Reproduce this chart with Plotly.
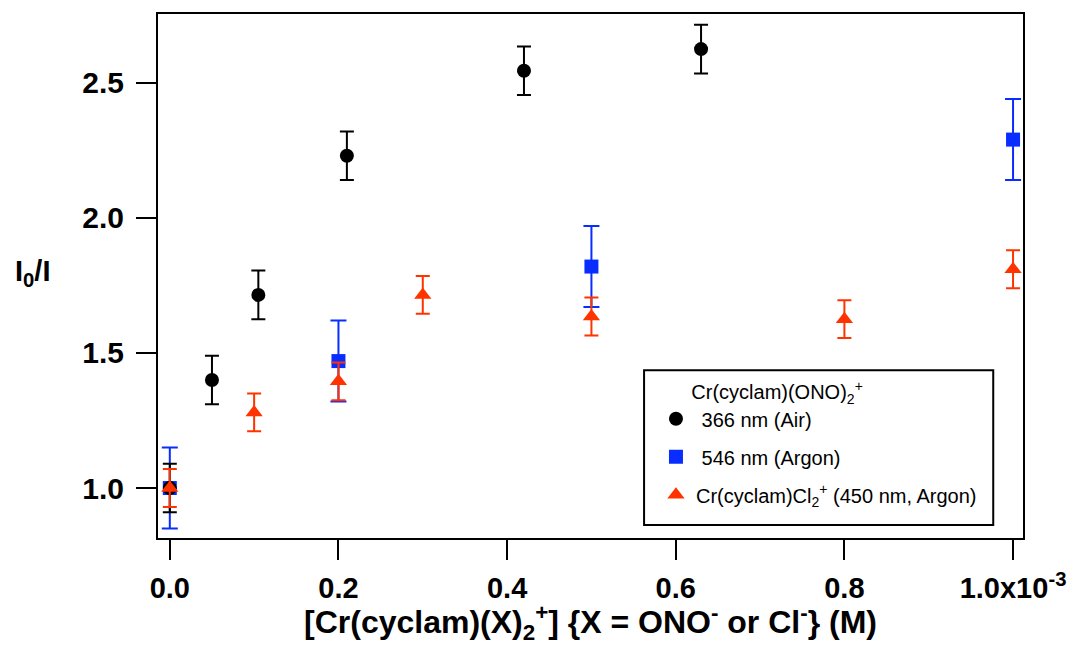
import plotly.graph_objects as go

# Data (x in M)
x_air = [0.0, 0.05e-3, 0.105e-3, 0.21e-3, 0.42e-3, 0.63e-3]
y_air = [1.00, 1.40, 1.715, 2.23, 2.545, 2.625]
e_air = [0.09, 0.09, 0.09, 0.09, 0.09, 0.09]

x_ar = [0.0, 0.2e-3, 0.5e-3, 1.0e-3]
y_ar = [1.00, 1.47, 1.82, 2.29]
e_ar = [0.15, 0.15, 0.15, 0.15]

x_cl = [0.0, 0.1e-3, 0.2e-3, 0.3e-3, 0.5e-3, 0.8e-3, 1.0e-3]
y_cl = [1.00, 1.28, 1.395, 1.715, 1.635, 1.625, 1.81]
e_cl = [0.07, 0.07, 0.07, 0.07, 0.07, 0.07, 0.07]

x_tickvals = [0.0, 0.2e-3, 0.4e-3, 0.6e-3, 0.8e-3, 1.0e-3]
x_ticktext = ["0.0", "0.2", "0.4", "0.6", "0.8", "1.0x10<sup>-3</sup>"]
y_tickvals = [1.0, 1.5, 2.0, 2.5]

BLACK = "#000000"
BLUE = "#0a2dff"
RED = "#ff3300"
FONT = "Liberation Sans, Arial, sans-serif"

fig = go.Figure()
fig.add_trace(go.Scatter(
    x=x_ar, y=y_ar, mode="markers", name="&nbsp;546 nm (Argon)",
    legendrank=2, legendgroup="b",
    marker=dict(symbol="square", size=14, color=BLUE),
    error_y=dict(type="data", array=e_ar, color=BLUE, thickness=2, width=8),
))
fig.add_trace(go.Scatter(
    x=x_air, y=y_air, mode="markers", name="&nbsp;366 nm (Air)",
    legendrank=1, legendgroup="a",
    marker=dict(symbol="circle", size=14, color=BLACK),
    error_y=dict(type="data", array=e_air, color=BLACK, thickness=2, width=7),
))
fig.add_trace(go.Scatter(
    x=x_cl, y=y_cl, mode="markers",
    name="Cr(cyclam)Cl<sub>2</sub><sup>+</sup> (450 nm, Argon)",
    legendrank=3, legendgroup="c",
    marker=dict(symbol="triangle-up", size=15, color=RED),
    error_y=dict(type="data", array=e_cl, color=RED, thickness=2, width=7),
))

L, R, T, B = 158, 48, 13, 107
W, H = 1078, 645
pw, ph = W - L - R, H - T - B

def px_x(p):
    return (p - L) / pw

def px_y(p):
    return (H - B - p) / ph

fig.add_shape(type="rect", xref="paper", yref="paper",
              x0=px_x(648), x1=px_x(1000), y0=px_y(525), y1=px_y(370),
              line=dict(color="black", width=2), fillcolor="white", layer="above")

fig.update_layout(
    width=W, height=H,
    margin=dict(l=L, r=R, t=T, b=B),
    paper_bgcolor="white", plot_bgcolor="white",
    font=dict(family=FONT, color="black"),
    legend=dict(
        x=px_x(660), y=px_y(373), xanchor="left", yanchor="top",
        bgcolor="rgba(0,0,0,0)", borderwidth=0,
        font=dict(size=20, family=FONT),
        title=dict(text="&nbsp;&nbsp;&nbsp;&nbsp;&nbsp;&nbsp;Cr(cyclam)(ONO)<sub>2</sub><sup>+</sup>",
                   font=dict(size=20), side="top"),
        traceorder="grouped", tracegroupgap=9,
    ),
    xaxis=dict(
        range=[-0.014e-3, 1.0118e-3],
        tickvals=x_tickvals, ticktext=x_ticktext,
        showline=True, linecolor="black", linewidth=2, mirror=True,
        ticks="outside", ticklen=20, tickwidth=2, tickcolor="black",
        showgrid=False, zeroline=False,
        tickfont=dict(family=FONT, size=29, color="black", weight="bold"),
        ticklabelstandoff=3,
        title=dict(text="[Cr(cyclam)(X)<sub>2</sub><sup>+</sup>] {X = ONO<sup>-</sup> or Cl<sup>-</sup>} (M)",
                   font=dict(family=FONT, size=32, color="black", weight="bold"),
                   standoff=2),
    ),
    yaxis=dict(
        range=[0.815, 2.755],
        tickvals=y_tickvals, tickformat=".1f",
        showline=True, linecolor="black", linewidth=2, mirror=True,
        ticks="outside", ticklen=20, tickwidth=2, tickcolor="black",
        showgrid=False, zeroline=False,
        tickfont=dict(family=FONT, size=30, color="black", weight="bold"),
        ticklabelstandoff=6,
    ),
    showlegend=True,
)

fig.add_annotation(
    text="I<sub>0</sub>/I", xref="paper", yref="paper",
    x=px_x(31), y=px_y(272), xanchor="center", yanchor="middle",
    showarrow=False,
    font=dict(family=FONT, size=29, color="black", weight="bold"),
)

fig.write_html("out.html")
